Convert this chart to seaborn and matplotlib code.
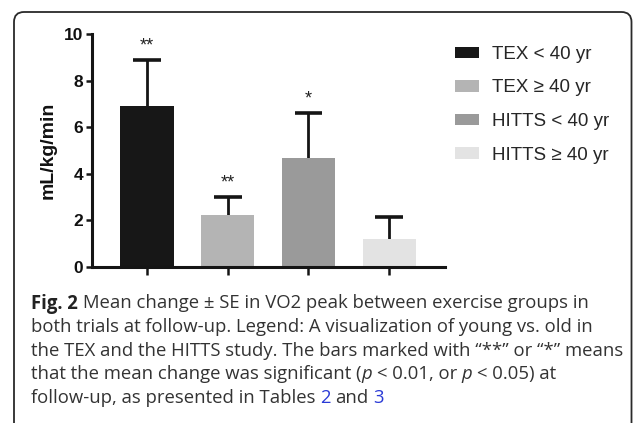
import numpy as np
import pandas as pd
import matplotlib
matplotlib.use("Agg")
import matplotlib.pyplot as plt
import seaborn as sns
from matplotlib.patches import Patch, FancyBboxPatch

# ---------------- data ----------------
groups = ["TEX < 40 yr", "TEX \u2265 40 yr", "HITTS < 40 yr", "HITTS \u2265 40 yr"]
means = [6.9, 2.23, 4.68, 1.2]
se = [1.98, 0.77, 1.92, 0.95]
stars = ["**", "**", "*", ""]
colors = ["#171717", "#b4b4b4", "#9a9a9a", "#e3e3e3"]
y_ticks = [0, 2, 4, 6, 8, 10]
y_label = "mL/kg/min"

caption_lines = [
    [("Fig. 2", "bold"), (" Mean change \u00b1 SE in VO2 peak between exercise groups in", "normal")],
    [("both trials at follow-up. Legend: A visualization of young vs. old in", "normal")],
    [("the TEX and the HITTS study. The bars marked with \u201c**\u201d or \u201c*\u201d means", "normal")],
    [("that the mean change was significant (", "normal"), ("p", "italic"),
     (" < 0.01, or ", "normal"), ("p", "italic"), (" < 0.05) at", "normal")],
    [("follow-up, as presented in Tables ", "normal"), ("2", "link"), (" and ", "normal"), ("3", "link")],
]

df = pd.DataFrame({"group": groups, "mean": means, "se": se})

sns.set_theme(style="white")
plt.rcParams["font.family"] = ["Liberation Sans", "DejaVu Sans"]

W, H = 633, 423
fig = plt.figure(figsize=(W / 100, H / 100), dpi=100)
fig.patch.set_facecolor("white")

# axes placement (pixels)
ax_l, ax_r, ax_t, ax_b = 92, 445, 34, 267
ax = fig.add_axes([ax_l / W, 1 - ax_b / H, (ax_r - ax_l) / W, (ax_b - ax_t) / H])

sns.barplot(data=df, x="group", y="mean", hue="group", palette=colors,
            width=0.66, saturation=1, legend=False, errorbar=None, ax=ax,
            linewidth=0, zorder=2)
xs = np.arange(len(groups))
tops = df["mean"] + df["se"]
ax.vlines(xs, df["mean"], tops, colors="#151515", linewidth=2.0, zorder=1)
ax.hlines(tops, xs - 0.172, xs + 0.172, colors="#151515", linewidth=2.6, zorder=1)

for i, s in enumerate(stars):
    if s:
        ax.annotate(s, (xs[i], tops[i]), xytext=(0, 4), textcoords="offset points",
                    ha="center", va="bottom", fontsize=13, color="#222222",
                    annotation_clip=False)

ax.set_xlim(-0.68, 3.69)
ax.set_ylim(0, 10)
ax.set_yticks(y_ticks)
ax.set_yticklabels([str(t) for t in y_ticks], fontweight="bold", fontsize=12.5)
ax.set_xticks(xs)
ax.set_xticklabels([""] * len(groups))
ax.set_xlabel("")
ax.set_ylabel(y_label, fontweight="bold", fontsize=14, color="#111111")
ax.yaxis.set_label_coords(-0.1, 0.5)
for sp in ["top", "right"]:
    ax.spines[sp].set_visible(False)
for sp in ["left", "bottom"]:
    ax.spines[sp].set_linewidth(2.2)
    ax.spines[sp].set_color("#151515")
ax.tick_params(axis="both", which="both", direction="out", width=1.8, color="#151515",
               left=True, bottom=True)
ax.tick_params(axis="y", length=4.5, pad=2, labelcolor="#111111")
ax.tick_params(axis="x", length=5.5)
ax.set_facecolor("white")
ax.grid(False)

handles = [Patch(facecolor=c, edgecolor="none") for c in colors]
fig.legend(handles, groups, loc="upper left", bbox_to_anchor=(455 / W, 1 - 46 / H),
           frameon=False, fontsize=13.5, handlelength=1.28, handleheight=0.55,
           handletextpad=0.72, labelspacing=0.88, borderpad=0, borderaxespad=0)

# frame
frame = FancyBboxPatch((14, -30), 617.5, H - 12 + 30,
                       boxstyle="round,pad=0,rounding_size=10", transform=None,
                       fill=False, linewidth=1.3, edgecolor="#2a2a2a")
fig.add_artist(frame)

# caption
renderer = fig.canvas.get_renderer()
cap_fs = 13.35
styles = {
    "normal": dict(family=["Open Sans", "DejaVu Sans"], color="#333333"),
    "bold": dict(family=["Open Sans", "DejaVu Sans"], color="#222222", fontweight="bold"),
    "italic": dict(family=["Open Sans", "DejaVu Sans"], color="#333333", style="italic"),
    "link": dict(family=["Open Sans", "DejaVu Sans"], color="#2a3ad6"),
}

def text_width(s, props):
    t = fig.text(0, 0, s, fontsize=cap_fs, **props)
    w = t.get_window_extent(renderer).width
    t.remove()
    return w

space_w = {k: text_width("x x", v) - text_width("xx", v) for k, v in styles.items()}

x0 = 31
line_y = [301, 325, 348.5, 372, 396]
for yy, runs in zip(line_y, caption_lines):
    x = x0
    for txt, st in runs:
        props = styles[st]
        lead = len(txt) - len(txt.lstrip(" "))
        trail = len(txt) - len(txt.rstrip(" "))
        core = txt.strip(" ")
        x += lead * space_w[st]
        t = fig.text(x / W, 1 - yy / H, core, fontsize=cap_fs, va="center_baseline",
                     ha="left", **props)
        x += t.get_window_extent(renderer).width + trail * space_w[st]

fig.savefig("out.png", dpi=100)
